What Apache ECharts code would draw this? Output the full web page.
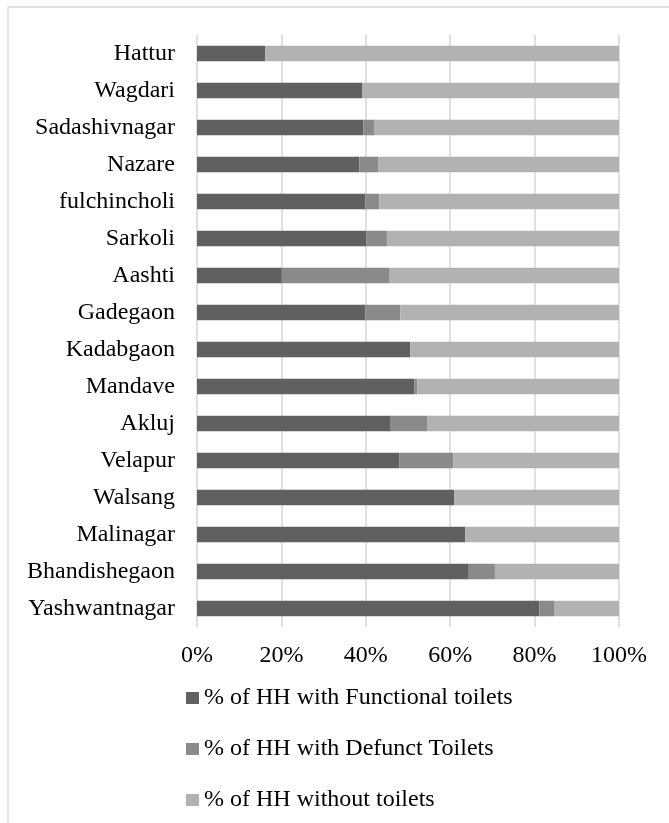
<!DOCTYPE html>
<html>
<head>
<meta charset="utf-8">
<script src="https://cdn.jsdelivr.net/npm/echarts@6/dist/echarts.min.js"></script>
<style>
  html, body { margin: 0; padding: 0; background: #fff; }
  #main { width: 669px; height: 823px; }
</style>
</head>
<body>
<div id="main"></div>
<script>
// villages, bottom to top
var villages = ['Yashwantnagar', 'Bhandishegaon', 'Malinagar', 'Walsang', 'Velapur', 'Akluj',
  'Mandave', 'Kadabgaon', 'Gadegaon', 'Aashti', 'Sarkoli', 'fulchincholi', 'Nazare',
  'Sadashivnagar', 'Wagdari', 'Hattur'];
var functional = [81.1, 64.4, 63.6, 61.0, 47.9, 45.9, 51.5, 50.5, 39.9, 20.1, 40.1, 39.9, 38.5, 39.4, 39.1, 16.2];
var defunct = [3.5, 6.2, 0, 0, 12.8, 8.6, 0.7, 0, 8.3, 25.4, 4.9, 3.3, 4.4, 2.7, 0, 0];
var without = [15.4, 29.4, 36.4, 39.0, 39.3, 45.5, 47.8, 49.5, 51.8, 54.5, 55.0, 56.8, 57.1, 57.9, 60.9, 83.8];
var seriesNames = ['% of HH with Functional toilets', '% of HH with Defunct Toilets', '% of HH without toilets'];
var xTicks = [0, 20, 40, 60, 80, 100];

(function(){
  var font = '"Liberation Serif", "Times New Roman", serif';
  var colors = ['#606060', '#8a8a8a', '#b2b2b2'];
  var datas = [functional, defunct, without];

  var series = [];
  datas.forEach(function(d, i){
    series.push({
      name: seriesNames[i],
      type: 'bar',
      stack: 'total',
      barCategoryGap: '58%',
      itemStyle: { color: colors[i] },
      data: d
    });
  });

  var option = {
    animation: false,
    textStyle: { fontFamily: font },
    grid: { left: 197, right: 50, top: 35, bottom: 196, containLabel: false },
    legend: {
      orient: 'vertical',
      left: 181,
      top: 681,
      itemWidth: 13,
      itemHeight: 12,
      itemGap: 27,
      icon: 'rect',
      textStyle: { fontFamily: font, fontSize: 24, color: '#000' },
      data: seriesNames
    },
    xAxis: {
      type: 'value',
      min: xTicks[0],
      max: xTicks[xTicks.length - 1],
      interval: 20,
      axisLine: { show: false },
      axisTick: { show: false },
      axisLabel: { formatter: '{value}%', fontFamily: font, fontSize: 24, color: '#000', margin: 17 },
      splitLine: { show: true, lineStyle: { color: '#d6d6d6', width: 1.5 } }
    },
    yAxis: {
      type: 'category',
      data: villages,
      axisLine: { show: false },
      axisTick: { show: false },
      axisLabel: { fontFamily: font, fontSize: 24, color: '#000', margin: 22 }
    },
    graphic: [
      { type: 'line', shape: { x1: 8, y1: 7, x2: 8, y2: 823 }, style: { stroke: '#d9d9d9', lineWidth: 1.5 } },
      { type: 'line', shape: { x1: 8, y1: 7, x2: 669, y2: 7 }, style: { stroke: '#d9d9d9', lineWidth: 1.5 } }
    ],
    series: series
  };

  var myChart = echarts.init(document.getElementById('main'));
  myChart.setOption(option);
})();
</script>
</body>
</html>
